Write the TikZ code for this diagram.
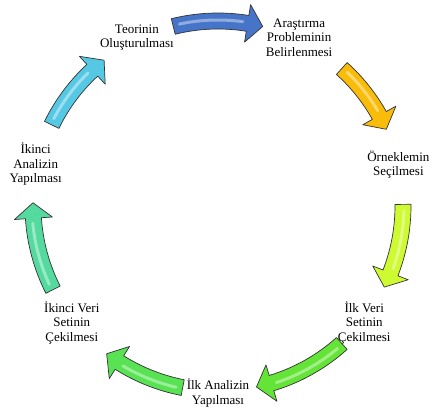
\documentclass[tikz,border=0pt]{standalone}
\usepackage{fontspec}
\setmainfont{Liberation Serif}
\usetikzlibrary{positioning}

\definecolor{okmavi}{RGB}{70,116,200}
\definecolor{okturuncu}{RGB}{250,188,10}
\definecolor{oksari}{RGB}{206,250,50}
\definecolor{okyesil}{RGB}{100,228,55}
\definecolor{okyesilb}{RGB}{88,226,84}
\definecolor{okturkuaz}{RGB}{84,218,158}
\definecolor{okcamgobegi}{RGB}{86,200,228}

% curved block arrow on the ring: tail angle, tip angle, colour
\newcommand{\cyclearrow}[3]{%
  \pgfmathsetmacro{\hb}{#2+4.8}%
  \filldraw[arr, fill=#3] (#1:193pt) arc[start angle=#1, end angle=\hb, radius=193pt]
    -- (\hb:204pt) -- (#2:185pt) -- (\hb:166pt) -- (\hb:177pt)
    arc[start angle=\hb, end angle=#1, radius=177pt] -- cycle;
  \draw[line width=3pt, #3!60!white, line cap=round]
    (#1-2:186pt) arc[start angle=#1-2, end angle=\hb+1.5, radius=186pt];
}

\begin{document}
\begin{tikzpicture}[lbl/.style={align=center, font=\rmfamily\fontsize{13}{14.5}\selectfont},
  arr/.style={draw=black!80, line width=0.7pt, line join=round}]

\useasboundingbox (-218pt,-205pt) rectangle (213pt,206pt);
\coordinate (c) at (0,0);

% steps of the cycle
\node (teori) [lbl] at (115.71:187pt) {Teorinin\\Oluşturulması};
\node (problem) [lbl] at (64.29:187pt) {Araştırma\\Probleminin\\Belirlenmesi};
\node (orneklem) [lbl] at (12.86:185pt) {Örneklemin\\Seçilmesi};
\node (veri1) [lbl] at (-38.57:187pt) {İlk Veri\\Setinin\\Çekilmesi};
\node (analiz1) [lbl] at (-90:187pt) {İlk Analizin\\Yapılması};
\node (veri2) [lbl] at (-141.43:187pt) {İkinci Veri\\Setinin\\Çekilmesi};
\node (analiz2) [lbl] at (167.14:187pt) {İkinci\\Analizin\\Yapılması};

% arrows between the steps
\cyclearrow{104}{76}{okmavi}
\cyclearrow{48}{24.5}{okturuncu}
\cyclearrow{0.5}{-26}{oksari}
\cyclearrow{-48}{-78}{okyesil}
\cyclearrow{-101}{-127}{okyesilb}
\cyclearrow{-153.1}{-181}{okturkuaz}
\cyclearrow{154}{128}{okcamgobegi}
\end{tikzpicture}
\end{document}
